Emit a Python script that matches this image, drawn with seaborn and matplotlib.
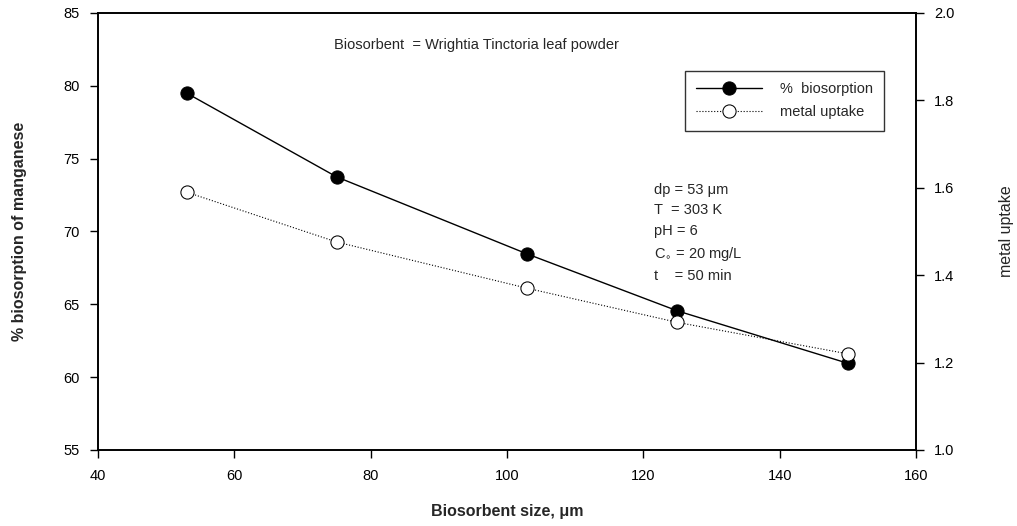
import pandas as pd
import matplotlib.pyplot as plt
import seaborn as sns

# Data
size_um = [53, 75, 103, 125, 150]
biosorption_pct = [79.5, 73.75, 68.45, 64.55, 60.95]
metal_uptake = [1.590, 1.476, 1.370, 1.292, 1.220]

df = pd.DataFrame({'size': size_um, 'biosorption': biosorption_pct, 'uptake': metal_uptake})

sns.set_style('ticks')
plt.rcParams['font.family'] = ['Liberation Sans', 'DejaVu Sans']

fig = plt.figure(figsize=(10.17, 5.26), dpi=100)
ax = fig.add_axes([0.0964, 0.1445, 0.8043, 0.8308])
ax2 = ax.twinx()

# % biosorption, solid line with filled circles
sns.lineplot(data=df, x='size', y='biosorption', ax=ax, color='black', linewidth=1.0,
             marker='o', markersize=9.5, markerfacecolor='black', markeredgecolor='black',
             label='%  biosorption', legend=False)
# metal uptake, dotted line with open circles
sns.lineplot(data=df, x='size', y='uptake', ax=ax2, color='black', linewidth=0.8,
             linestyle=':', marker='o', markersize=9.5, markerfacecolor='white',
             markeredgecolor='black', label='metal uptake', legend=False)

ax.set_xlim(40, 160)
ax.set_ylim(55, 85)
ax2.set_ylim(1.0, 2.0)
ax.set_xticks([40, 60, 80, 100, 120, 140, 160])
ax.set_yticks([55, 60, 65, 70, 75, 80, 85])
ax2.set_yticks([1.0, 1.2, 1.4, 1.6, 1.8, 2.0])
ax2.set_yticklabels(['1.0', '1.2', '1.4', '1.6', '1.8', '2.0'])

for a in (ax, ax2):
    for s in a.spines.values():
        s.set_linewidth(1.2)
        s.set_color('black')
    a.tick_params(direction='out', length=6, width=1, labelsize=10.5, colors='black', pad=7)
ax.tick_params(axis='x', pad=8)

ax.set_xlabel('Biosorbent size, \u03bcm', fontsize=11.5, fontweight='bold', labelpad=15)
ax.set_ylabel('% biosorption of manganese', fontsize=11.5, fontweight='bold', labelpad=26)
ax2.set_ylabel('metal uptake', fontsize=11.5, labelpad=32)

ax.text(0.463, 0.927, 'Biosorbent  = Wrightia Tinctoria leaf powder', transform=ax.transAxes,
        fontsize=10.5, ha='center', va='center')
ax.text(0.68, 0.61, 'dp = 53 \u03bcm\nT  = 303 K\npH = 6\nC$_{\\circ}$ = 20 mg/L\nt    = 50 min',
        transform=ax.transAxes, fontsize=10.5, va='top', linespacing=1.55)

h1, l1 = ax.get_legend_handles_labels()
h2, l2 = ax2.get_legend_handles_labels()
leg = ax2.legend(h1 + h2, l1 + l2, loc='upper right', bbox_to_anchor=(0.97, 0.885),
                 fontsize=10.5, frameon=True, fancybox=False, edgecolor='black',
                 handlelength=4.5, handletextpad=1.2, borderpad=0.8, labelspacing=0.6)
leg.get_frame().set_linewidth(1.0)

fig.savefig('out.png', dpi=100)
